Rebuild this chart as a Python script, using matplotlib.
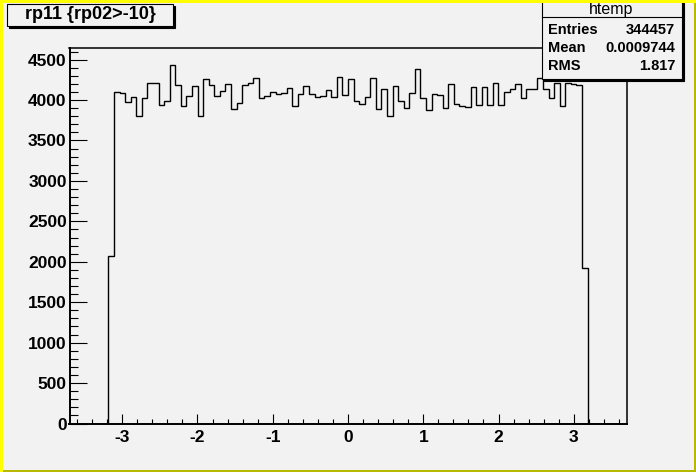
import numpy as np
import matplotlib
matplotlib.use("Agg")
import matplotlib.pyplot as plt
from matplotlib.patches import Rectangle
from matplotlib.lines import Line2D

plt.rcParams['font.family'] = ['Liberation Sans', 'DejaVu Sans']
plt.rcParams['axes.unicode_minus'] = False

# ---- data ----
x_min, x_max, n_bins = -3.7, 3.7, 100
counts = [0, 0, 0, 0, 0, 0, 0,
          2070, 4096, 4084, 3973, 4035, 3800, 4022, 4208, 4208, 3936,
          3985, 4431, 4183, 3923, 4047, 4171, 3800, 4258, 4183, 4047,
          4109, 4196, 3886, 3960, 4183, 4208, 4270, 4022, 4047, 4096,
          4072, 4084, 4146, 3923, 4072, 4171, 4072, 4035, 4047, 4121,
          4035, 4282, 4059, 4258, 3985, 3948, 4035, 4270, 3886, 4134,
          3800, 4171, 3985, 3898, 4084, 4381, 4022, 3874, 4072, 4059,
          3898, 4196, 3948, 3923, 3910, 4159, 3936, 4159, 3936, 4208,
          3936, 4096, 4134, 4196, 4022, 4134, 4134, 4270, 4134, 4022,
          4208, 3927, 4208, 4196, 4183, 1922,
          0, 0, 0, 0, 0, 0, 0]
x_ticks = [-3, -2, -1, 0, 1, 2, 3]
y_ticks = [0, 500, 1000, 1500, 2000, 2500, 3000, 3500, 4000, 4500]
y_max = 4650
title = "rp11 {rp02>-10}"
stats_name = "htemp"
stats_rows = [("Entries", "344457"), ("Mean", "0.0009744"), ("RMS", "1.817")]

W, H = 696, 472
BG = '#f2f2f2'
fig = plt.figure(figsize=(W / 100, H / 100), dpi=100, facecolor=BG)

def fx(px):
    return px / W

def fy(py):
    return 1 - py / H

# axes frame in pixels
L, R, T, B = 69.5, 626.5, 47.5, 423.5
ax = fig.add_axes([fx(L), fy(B), fx(R - L), (B - T) / H])
ax.set_facecolor(BG)

edges = np.linspace(x_min, x_max, n_bins + 1)
ax.stairs(counts, edges, color='black', linewidth=1.0, baseline=0)

ax.set_xlim(x_min, x_max)
ax.set_ylim(0, y_max)
ax.set_xticks(x_ticks)
ax.set_xticklabels([str(t) for t in x_ticks])
ax.set_yticks(y_ticks)
ax.set_yticklabels([str(t) for t in y_ticks])
ax.set_xticks(np.arange(-3.6, 3.61, 0.2), minor=True)
ax.set_yticks(np.arange(0, y_max, 100), minor=True)

for s in ax.spines.values():
    s.set_linewidth(1.1)
    s.set_color('black')
ax.spines['left'].set_linewidth(1.4)
ax.spines['bottom'].set_linewidth(1.4)

ax.tick_params(axis='both', which='both', direction='in', color='black', width=0.8)
ax.tick_params(axis='y', which='major', length=12, pad=2)
ax.tick_params(axis='y', which='minor', length=6)
ax.tick_params(axis='x', which='major', length=7.5, pad=5)
ax.tick_params(axis='x', which='minor', length=3.8)
ax.tick_params(axis='x', which='both', top=False)
ax.tick_params(axis='y', which='both', right=False)
for lab in ax.get_xticklabels() + ax.get_yticklabels():
    lab.set_fontweight('bold')
    lab.set_fontsize(12.5)

def box(x0, y0, x1, y1, shadow=2, z=5):
    fig.patches.append(Rectangle((fx(x0 + shadow), fy(y1 + shadow)),
                                 fx(x1 - x0), (y1 - y0) / H,
                                 transform=fig.transFigure, facecolor='black',
                                 edgecolor='black', linewidth=0.8, zorder=z))
    fig.patches.append(Rectangle((fx(x0), fy(y1)), fx(x1 - x0), (y1 - y0) / H,
                                 transform=fig.transFigure, facecolor=BG,
                                 edgecolor='black', linewidth=0.8, zorder=z + 0.1))

# title box
box(7, 3.5, 173, 25.5)
fig.text(fx(90), fy(14.5), title, ha='center', va='center', fontsize=13,
         fontweight='bold', zorder=10)

# stats box
box(542, 1.5, 682, 79)
fig.lines.append(Line2D([fx(542), fx(682)], [fy(16.5), fy(16.5)], transform=fig.transFigure,
                        color='black', linewidth=0.8, zorder=10))
fig.text(fx(611), fy(14), stats_name, ha='center', va='baseline', fontsize=11.5,
         fontweight='medium', zorder=10)
for i, (k, v) in enumerate(stats_rows):
    yy = 29.5 + i * 18.5
    fig.text(fx(548), fy(yy), k, ha='left', va='center', fontsize=10.5,
             fontweight='bold', zorder=10)
    fig.text(fx(675), fy(yy), v, ha='right', va='center', fontsize=10.5,
             fontweight='bold', zorder=10)

# canvas border (yellow highlight / olive shadow)
bw = 2.5
fig.patches.append(Rectangle((0, 0), 1, bw / H, transform=fig.transFigure,
                             facecolor='#b8b800', edgecolor='none', zorder=20))
fig.patches.append(Rectangle((1 - bw / W, 0), bw / W, 1, transform=fig.transFigure,
                             facecolor='#b8b800', edgecolor='none', zorder=20))
fig.patches.append(Rectangle((0, 1 - bw / H), 1, bw / H, transform=fig.transFigure,
                             facecolor='#ffff00', edgecolor='none', zorder=21))
fig.patches.append(Rectangle((0, 0), bw / W, 1, transform=fig.transFigure,
                             facecolor='#ffff00', edgecolor='none', zorder=21))

fig.savefig('out.png', dpi=100, facecolor=BG)
